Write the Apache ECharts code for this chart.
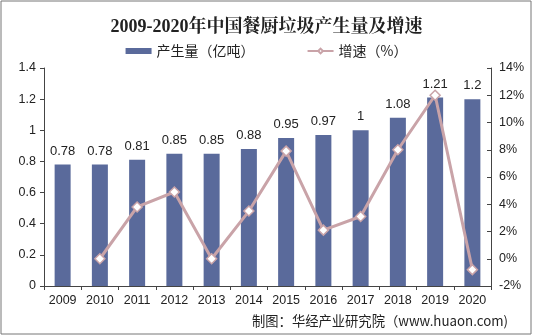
<!DOCTYPE html>
<html><head><meta charset="utf-8">
<script src="https://cdn.jsdelivr.net/npm/echarts@6/dist/echarts.min.js"></script>
<style>html,body{margin:0;padding:0;background:#fff}#c{width:533px;height:336px}</style>
</head><body><div id="c"></div>
<script>
const years = ['2009','2010','2011','2012','2013','2014','2015','2016','2017','2018','2019','2020'];
const output = [0.78,0.78,0.81,0.85,0.85,0.88,0.95,0.97,1,1.08,1.21,1.2];
const growth = [null,0,3.8,4.9,0,3.5,7.9,2.1,3.1,8.0,12.0,-0.8];
const leftTicks = [0,0.2,0.4,0.6,0.8,1,1.2,1.4];
const rightTicks = [-2,0,2,4,6,8,10,12,14];

const chart = echarts.init(document.getElementById('c'));
const font = 'Liberation Sans, Arial, sans-serif';
chart.setOption({
  animation:false,
  title:{text:'2009-2020年中国餐厨垃圾产生量及增速',left:'center',top:13,
    textStyle:{fontFamily:'Liberation Serif, Noto Serif CJK SC, serif',fontSize:18,fontWeight:'bold',color:'#222'}},
  legend:{top:39,left:'center',itemGap:52,itemWidth:26,itemHeight:6,
    textStyle:{fontFamily:'Noto Sans CJK SC, sans-serif',fontSize:14,color:'#222'},
    data:[{name:'产生量（亿吨）',icon:'rect'},{name:'增速（%）'}]},
  grid:{left:44,right:42,top:68,bottom:50,containLabel:false},
  xAxis:{type:'category',data:years,
    axisLine:{lineStyle:{color:'#444'}},
    axisTick:{show:true,alignWithLabel:false,length:4,lineStyle:{color:'#444'}},
    axisLabel:{fontFamily:font,fontSize:12.5,color:'#222',margin:8,interval:0}},
  yAxis:[{type:'value',min:0,max:1.4,interval:0.2,
    axisLine:{show:true,lineStyle:{color:'#444'}},
    axisTick:{show:true,length:4,lineStyle:{color:'#444'}},
    splitLine:{show:false},
    axisLabel:{fontFamily:font,fontSize:12.5,color:'#222',margin:8,
      formatter:v=>{const t=leftTicks.find(x=>Math.abs(x-v)<1e-6);return t===undefined?'':String(t);}}},
   {type:'value',min:-2,max:14,interval:2,position:'right',
    axisLine:{show:true,lineStyle:{color:'#444'}},
    axisTick:{show:true,inside:true,length:4,lineStyle:{color:'#444'}},
    splitLine:{show:false},
    axisLabel:{fontFamily:font,fontSize:12.5,color:'#222',margin:8,
      formatter:v=>{const t=rightTicks.find(x=>Math.abs(x-v)<1e-6);return t===undefined?'':t+'%';}}}],
  series:[
    {name:'产生量（亿吨）',type:'bar',data:output,barWidth:16,
      itemStyle:{color:'#5A6A9B'},
      label:{show:true,position:'top',distance:7,fontFamily:font,fontSize:13,color:'#222'}},
    {name:'增速（%）',type:'line',yAxisIndex:1,data:growth,
      symbol:'diamond',symbolSize:10,
      lineStyle:{color:'#C9A3A8',width:3},
      itemStyle:{color:'#fff',borderColor:'#C9A3A8',borderWidth:1.5}}
  ],
  graphic:[
    {type:'rect',shape:{x:1,y:1,width:530,height:333},style:{fill:'none',stroke:'#777',lineWidth:1},silent:true},
    {type:'text',right:25,top:314,style:{text:'制图：华经产业研究院（www.huaon.com)',fontFamily:'Noto Sans CJK SC, sans-serif',fontSize:13.3,fill:'#222'}}
  ]
});
</script></body></html>
